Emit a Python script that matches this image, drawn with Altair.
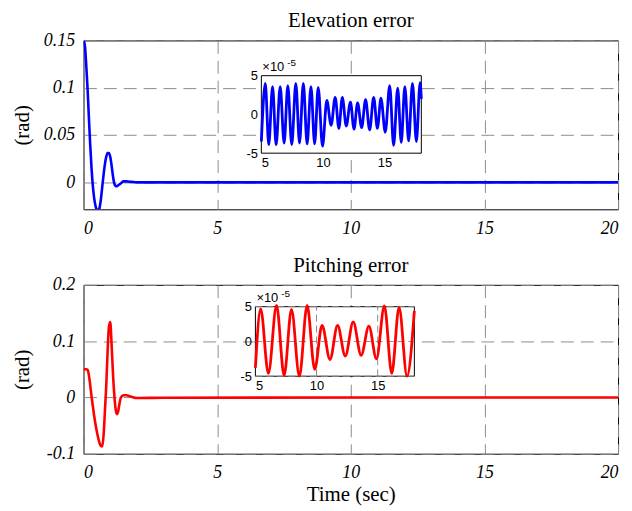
import altair as alt
import pandas as pd

# ---------------- data ----------------
X_TICKS = [0, 5, 10, 15, 20]

ELEV_T = [0, 0.05, 0.1, 0.15, 0.2, 0.25, 0.3, 0.35, 0.4, 0.45, 0.5, 0.55, 0.6, 0.65,
          0.7, 0.75, 0.8, 0.85, 0.9, 0.95, 1.0, 1.05, 1.1, 1.15, 1.2, 1.25, 1.3, 1.4,
          1.5, 1.6, 1.8, 2.0, 20.0]
ELEV_V = [0.150, 0.145, 0.125, 0.100, 0.069, 0.040, 0.015, -0.004, -0.017, -0.025,
          -0.029, -0.030, -0.027, -0.018, -0.005, 0.008, 0.019, 0.027, 0.031, 0.031,
          0.027, 0.018, 0.007, -0.001, -0.004, -0.004, -0.003, -0.001, 0.001, 0.001,
          0.0005, 0.0, 0.0]
ELEV_YTICKS = [0, 0.05, 0.1, 0.15]
ELEV_YDOMAIN = [-0.0285, 0.15]

PITCH_T = [0, 0.1, 0.15, 0.2, 0.25, 0.3, 0.35, 0.4, 0.45, 0.5, 0.55, 0.6, 0.65, 0.7,
           0.75, 0.8, 0.85, 0.9, 0.95, 1.0, 1.05, 1.1, 1.15, 1.2, 1.25, 1.3, 1.35, 1.4,
           1.5, 1.6, 1.8, 2.0, 3.0, 20.0]
PITCH_V = [0.050, 0.050, 0.049, 0.040, 0.022, 0.002, -0.016, -0.033, -0.048, -0.061,
           -0.072, -0.081, -0.086, -0.087, -0.068, -0.025, 0.020, 0.080, 0.125, 0.134,
           0.095, 0.045, 0.006, -0.020, -0.030, -0.024, -0.010, 0.000, 0.004, 0.004,
           0.001, -0.001, -0.0005, 0.0]
PITCH_YTICKS = [-0.1, 0, 0.1, 0.2]
PITCH_YDOMAIN = [-0.1, 0.2]

# inset (zoom, x 1e-5)
INSET_XDOMAIN = [5, 18]
INSET_YDOMAIN = [-5, 5]
INSET_XTICKS = [5, 10, 15]
INSET_YTICKS = [-5, 0, 5]

ELEV_IN_T = [5.0, 5.32, 5.6, 5.91, 6.2, 6.53, 6.85, 7.15, 7.47, 7.8, 8.1, 8.41, 8.72,
             9.03, 9.33, 9.62, 9.97, 10.32, 10.67, 11.0, 11.3, 11.58, 11.9, 12.24,
             12.53, 12.82, 13.15, 13.47, 13.8, 14.13, 14.43, 14.72, 15.07, 15.43,
             15.75, 16.08, 16.37, 16.66, 16.97, 17.28, 17.6, 17.9, 18.0]
ELEV_IN_V = [-3.5, 4.0, -3.9, 3.6, -3.9, 3.6, -3.7, 3.7, -3.9, 4.0, -3.7, 4.0, -3.8,
             3.6, -3.8, 3.5, -4.1, 1.8, -1.4, 2.2, -1.8, 2.2, -1.5, 1.6, -1.9, 1.5,
             -1.7, 1.9, -2.0, 2.2, -1.8, 2.1, -2.3, 3.7, -4.0, 3.4, -3.6, 3.6, -3.4,
             4.0, -3.5, 4.1, 2.0]

PITCH_IN_T = [5.0, 5.43, 6.06, 6.73, 7.35, 7.95, 8.6, 9.23, 9.85, 10.45, 11.1, 11.72,
              12.35, 13.0, 13.65, 14.28, 14.9, 15.55, 16.15, 16.75, 17.4, 18.0]
PITCH_IN_V = [-3.8, 4.7, -4.6, 5.2, -4.9, 4.6, -5.0, 5.2, -4.0, 2.3, -2.6, 2.3, -2.1,
              2.8, -2.0, 2.2, -2.5, 5.1, -4.6, 4.9, -5.0, 4.4]

# ---------------- style ----------------
SERIF = "Liberation Serif"
SANS = "Liberation Sans"
W, H = 538, 170
GRID = "#8c8c8c"


def panel(title, t, v, color, ydomain, yticks, in_t, in_v, in_xrange, in_yrange,
          in_grid, xtitle):
    main = alt.Chart(pd.DataFrame({"t": t, "v": v})).mark_line(
        color=color, strokeWidth=2.6, interpolate="monotone", clip=True
    ).encode(
        x=alt.X("t:Q", scale=alt.Scale(domain=[0, 20], nice=False, zero=False),
                axis=alt.Axis(values=X_TICKS, title=xtitle, grid=True, gridDash=[13, 7],
                              gridColor=GRID, domain=False, ticks=False,
                              labelFont=SERIF, labelFontStyle="italic", labelFontSize=18,
                              labelColor="black", labelPadding=10,
                              titleFont=SERIF, titleFontSize=21, titleFontWeight="normal",
                              titleColor="black", titlePadding=2)),
        y=alt.Y("v:Q", scale=alt.Scale(domain=ydomain, nice=False, zero=False),
                axis=alt.Axis(values=yticks, title="(rad)", grid=True, gridDash=[13, 7],
                              gridColor=GRID, domain=False, ticks=False,
                              labelExpr="'' + datum.value",
                              labelFont=SERIF, labelFontStyle="italic", labelFontSize=18,
                              labelColor="black", labelPadding=9,
                              minExtent=41, maxExtent=41,
                              titleFont=SERIF, titleFontSize=21, titleFontWeight="normal",
                              titleColor="black", titlePadding=10)),
    )

    xs = alt.Scale(domain=INSET_XDOMAIN, range=in_xrange, nice=False, zero=False)
    ys = alt.Scale(domain=INSET_YDOMAIN, range=in_yrange, nice=False, zero=False)

    box_df = pd.DataFrame({"x0": [INSET_XDOMAIN[0]], "x1": [INSET_XDOMAIN[1]],
                           "y0": [INSET_YDOMAIN[0]], "y1": [INSET_YDOMAIN[1]]})
    bg = alt.Chart(box_df).mark_rect(fill="white", strokeWidth=0).encode(
        x=alt.X("x0:Q", scale=xs, axis=None), x2="x1:Q",
        y=alt.Y("y0:Q", scale=ys, axis=None), y2="y1:Q")
    frame = alt.Chart(box_df).mark_rect(fillOpacity=0, stroke="black", strokeWidth=1).encode(
        x=alt.X("x0:Q", scale=xs, axis=None), x2="x1:Q",
        y=alt.Y("y0:Q", scale=ys, axis=None), y2="y1:Q")

    layers = [main, bg, frame]
    if in_grid:
        vdf = pd.DataFrame({"gx": [10, 15], "y0": INSET_YDOMAIN[0], "y1": INSET_YDOMAIN[1]})
        hdf = pd.DataFrame({"gy": INSET_YTICKS, "x0": INSET_XDOMAIN[0], "x1": INSET_XDOMAIN[1]})
        vr = alt.Chart(vdf).mark_rule(color=GRID, strokeDash=[7, 4], strokeWidth=1).encode(
            x=alt.X("gx:Q", scale=xs, axis=None),
            y=alt.Y("y0:Q", scale=ys, axis=None), y2="y1:Q")
        hr = alt.Chart(hdf).mark_rule(color=GRID, strokeDash=[7, 4], strokeWidth=1).encode(
            y=alt.Y("gy:Q", scale=ys, axis=None),
            x=alt.X("x0:Q", scale=xs, axis=None), x2="x1:Q")
        layers += [vr, hr]

    inset = alt.Chart(pd.DataFrame({"t": in_t, "v": in_v})).mark_line(
        color=color, strokeWidth=2.8, interpolate="monotone"
    ).encode(
        x=alt.X("t:Q", scale=xs,
                axis=alt.Axis(values=INSET_XTICKS, orient="bottom",
                              offset=-(H - in_yrange[0]), grid=False, domain=False,
                              ticks=False, title=None, labelFont=SANS, labelFontSize=13,
                              labelColor="black", labelPadding=3)),
        y=alt.Y("v:Q", scale=ys,
                axis=alt.Axis(values=INSET_YTICKS, orient="left",
                              offset=-in_xrange[0], grid=False, domain=False,
                              ticks=False, title=None, labelFont=SANS, labelFontSize=13,
                              labelColor="black", labelPadding=4,
                              labelExpr="'' + datum.value")),
    )
    layers.append(inset)

    lab_df = pd.DataFrame({"x": [INSET_XDOMAIN[0]], "y": [INSET_YDOMAIN[1]]})
    mult = alt.Chart(lab_df).mark_text(
        text="\u00d710", font=SANS, fontSize=13, align="left", baseline="bottom",
        dx=1, dy=-2, color="black"
    ).encode(x=alt.X("x:Q", scale=xs, axis=None), y=alt.Y("y:Q", scale=ys, axis=None))
    expo = alt.Chart(lab_df).mark_text(
        text="-5", font=SANS, fontSize=10, align="left", baseline="bottom",
        dx=26, dy=-8, color="black"
    ).encode(x=alt.X("x:Q", scale=xs, axis=None), y=alt.Y("y:Q", scale=ys, axis=None))
    layers += [mult, expo]

    return alt.layer(*layers).resolve_scale(x="independent", y="independent").properties(
        width=W, height=H,
        title=alt.TitleParams(title, font=SERIF, fontSize=21, fontWeight="normal",
                              color="black", anchor="middle", frame="group", offset=0))


top = panel("Elevation error", ELEV_T, ELEV_V, "#0000ff", ELEV_YDOMAIN, ELEV_YTICKS,
            ELEV_IN_T, ELEV_IN_V, [179, 340], [113.5, 35.5], False, None)
bottom = panel("Pitching error", PITCH_T, PITCH_V, "#ff0000", PITCH_YDOMAIN, PITCH_YTICKS,
               PITCH_IN_T, PITCH_IN_V, [173, 333], [92, 22], True, "Time (sec)")

chart = alt.vconcat(top, bottom, spacing=16).properties(
    padding={"left": 3, "top": 0, "right": 5, "bottom": 0}
).configure_view(stroke="black", strokeWidth=1)

chart.save("out.html", embed_options={"renderer": "svg", "actions": False})
